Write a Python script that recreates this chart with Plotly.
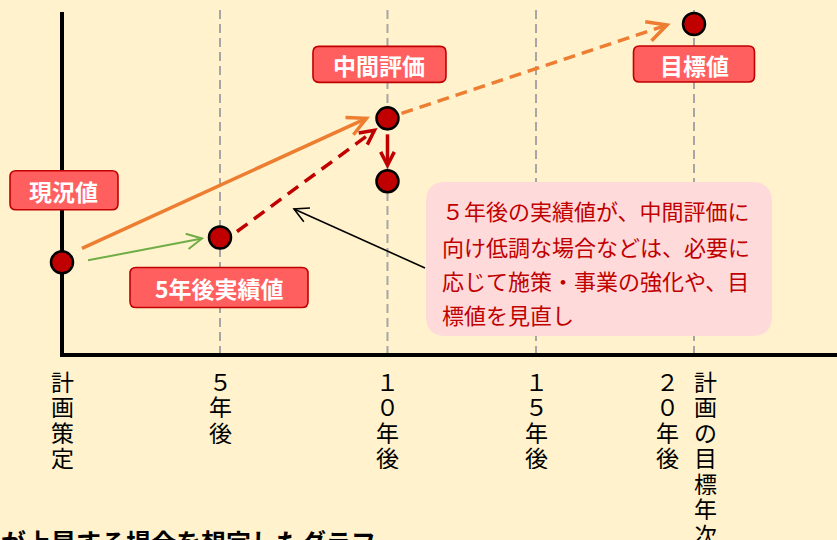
import math
import plotly.graph_objects as go

# ---------------- data ----------------
milestone_labels = ["計画策定", "５年後", "１０年後", "１５年後", "２０年後/計画の目標年次"]
milestone_x = [0, 5, 10.3, 15, 20]          # position on the time axis

point_names = ["現況値", "5年後実績値", "中間評価", "見直し後", "目標値"]
point_x = [0, 5, 10.3, 10.3, 20]
point_y = [28, 35.5, 71.5, 52.5, 100]

callout_lines = ["５年後の実績値が、中間評価に",
                 "向け低調な場合などは、必要に",
                 "応じて施策・事業の強化や、目",
                 "標値を見直し"]
caption = "が上昇する場合を想定したグラフ"

# ---------------- layout geometry (page pixels) ----------------
W, H = 837, 540
OFF = 0
X0_PX, PX_PER_X = 62, 31.6
Y0_PX, PX_PER_Y = 355, 3.31
x_range = [(OFF - X0_PX) / PX_PER_X, (OFF + W - X0_PX) / PX_PER_X]
y_range = [(Y0_PX - (OFF + H)) / PX_PER_Y, (Y0_PX - OFF) / PX_PER_Y]

BG = "#FFF2CC"
RED = "#C00000"
BOX = "#FF5F5F"
PINK = "#FFDADA"
ORANGE = "#ED7D31"
GREEN = "#70AD47"
GRID = "#A6A6A6"
FONT = "Noto Sans CJK JP"


def to_px(x, y):
    return X0_PX + x * PX_PER_X, Y0_PX - y * PX_PER_Y


def pp(px, py):
    return (px - OFF) / W, (OFF + H - py) / H


def ps(px, py):
    a, b = pp(px, py)
    return f"{a:.5f},{b:.5f}"


def rrect_path(x0, y0, x1, y1, r):
    return (f"M {ps(x0 + r, y0)} L {ps(x1 - r, y0)} Q {ps(x1, y0)} {ps(x1, y0 + r)} "
            f"L {ps(x1, y1 - r)} Q {ps(x1, y1)} {ps(x1 - r, y1)} "
            f"L {ps(x0 + r, y1)} Q {ps(x0, y1)} {ps(x0, y1 - r)} "
            f"L {ps(x0, y0 + r)} Q {ps(x0, y0)} {ps(x0 + r, y0)} Z")


shapes = []
annotations = []


def line_shape(sx, sy, ex, ey, color, width, dash="solid", layer="above"):
    a0, b0 = pp(sx, sy)
    a1, b1 = pp(ex, ey)
    shapes.append(dict(type="line", xref="paper", yref="paper", x0=a0, y0=b0, x1=a1, y1=b1,
                       line=dict(color=color, width=width, dash=dash), layer=layer))


def add_arrow(sx, sy, ex, ey, color, width, dash="solid", head=20, ang=27):
    line_shape(sx, sy, ex, ey, color, width, dash)
    dx, dy = sx - ex, sy - ey
    n = math.hypot(dx, dy)
    ux, uy = dx / n, dy / n
    pts = []
    for s in (1, -1):
        t = math.radians(ang) * s
        rx = ux * math.cos(t) - uy * math.sin(t)
        ry = ux * math.sin(t) + uy * math.cos(t)
        pts.append((ex + head * rx, ey + head * ry))
    path = f"M {ps(*pts[0])} L {ps(ex, ey)} L {ps(*pts[1])}"
    shapes.append(dict(type="path", xref="paper", yref="paper", path=path,
                       line=dict(color=color, width=width), layer="above"))


# grid lines (dashed) at milestones, and axis lines
for xv in milestone_x[1:]:
    gx, _ = to_px(xv, 0)
    line_shape(gx, 10, gx, 353, GRID, 2, "9px,5px", layer="below")
ax0x, ax0y = to_px(0, 0)
line_shape(ax0x, 12, ax0x, ax0y + 2, "black", 4, layer="below")
line_shape(ax0x - 2, ax0y, OFF + W, ax0y, "black", 4, layer="below")

P = [to_px(x, y) for x, y in zip(point_x, point_y)]

# arrows between points: (from, to, start offset, end offset, colour, width, dash, head)
arrow_specs = [
    (0, 2, (20, -14), (-21, 0), ORANGE, 3.5, "solid", 21),
    (0, 1, (26, -2), (-18, 1), GREEN, 2, "solid", 17),
    (1, 2, (17, -6), (-13, 12), RED, 3.5, "13px,8px", 16),
    (2, 3, (0, 16), (0, -16), RED, 3.5, "solid", 15),
    (2, 4, (14, -5), (-27, 1), ORANGE, 3.5, "12px,7px", 22),
]
for i, j, so, eo, col, w, d, hd in arrow_specs:
    add_arrow(P[i][0] + so[0], P[i][1] + so[1], P[j][0] + eo[0], P[j][1] + eo[1], col, w, d, hd)

# callout pointer
add_arrow(425, 268, 294, 209, "#000000", 1.6, "solid", 16, 28)

# callout box
shapes.append(dict(type="path", xref="paper", yref="paper", path=rrect_path(426, 182, 772, 336, 20),
                   fillcolor=PINK, line=dict(width=0), layer="above"))
line_y = [210, 246, 280, 314]
for txt, yy in zip(callout_lines, line_y):
    a, b = pp(440, yy)
    annotations.append(dict(x=a, y=b, xref="paper", yref="paper", text=txt, showarrow=False,
                            xanchor="left", yanchor="middle",
                            font=dict(family=FONT, size=22, color=RED)))

# label boxes: (point index, text, dx, dy, width, height)
label_specs = [
    (0, "現況値", 2, -72, 108, 39),
    (1, "5年後実績値", -1, 50, 178, 40),
    (2, "中間評価", -8, -54, 133, 36),
    (4, "目標値", 0, 40, 121, 36),
]
for idx, txt, dx, dy, bw, bh in label_specs:
    cx, cy = P[idx][0] + dx, P[idx][1] + dy
    shapes.append(dict(type="path", xref="paper", yref="paper",
                       path=rrect_path(cx - bw / 2, cy - bh / 2, cx + bw / 2, cy + bh / 2, 6),
                       fillcolor=BOX, line=dict(color=RED, width=1.6), layer="above"))
    a, b = pp(cx, cy + 1)
    annotations.append(dict(x=a, y=b, xref="paper", yref="paper", text=f"<b>{txt}</b>",
                            showarrow=False, xanchor="center", yanchor="middle",
                            font=dict(family=FONT, size=23, color="white")))

# vertical tick labels (one character per row)
for lab, xv in zip(milestone_labels, milestone_x):
    cols = lab.split("/")
    offs = [0] if len(cols) == 1 else [-27, 11]
    tx, _ = to_px(xv, 0)
    for col, off in zip(cols, offs):
        for k, ch in enumerate(col):
            a, b = pp(tx + off, 380 + k * 25.5)
            annotations.append(dict(x=a, y=b, xref="paper", yref="paper", text=ch, showarrow=False,
                                    xanchor="center", yanchor="middle", height=25, borderpad=0,
                                    font=dict(family=FONT, size=23, color="black")))

# caption (cut off at the bottom)
a, b = pp(-1, 541)
annotations.append(dict(x=a, y=b, xref="paper", yref="paper", text=f"<b>{caption}</b>",
                        showarrow=False, xanchor="left", yanchor="middle",
                        font=dict(family=FONT, size=25, color="black")))

fig = go.Figure()
fig.add_trace(go.Scatter(
    x=point_x, y=point_y, mode="markers", text=point_names, hoverinfo="text",
    marker=dict(size=22, color=RED, line=dict(color="black", width=2.5)),
    cliponaxis=False, showlegend=False))

fig.update_layout(
    width=W, height=H,
    margin=dict(l=0, r=0, t=0, b=0, autoexpand=False),
    paper_bgcolor=BG, plot_bgcolor="rgba(0,0,0,0)",
    xaxis=dict(range=x_range, visible=False, fixedrange=True),
    yaxis=dict(range=y_range, visible=False, fixedrange=True),
    shapes=shapes, annotations=annotations,
    font=dict(family=FONT),
)

fig.write_html("out.html", config={"displayModeBar": False},
               post_script="document.body.style.margin='0';"
                           "document.body.style.background='#FFF2CC';"
                           "document.body.style.overflow='hidden';")
